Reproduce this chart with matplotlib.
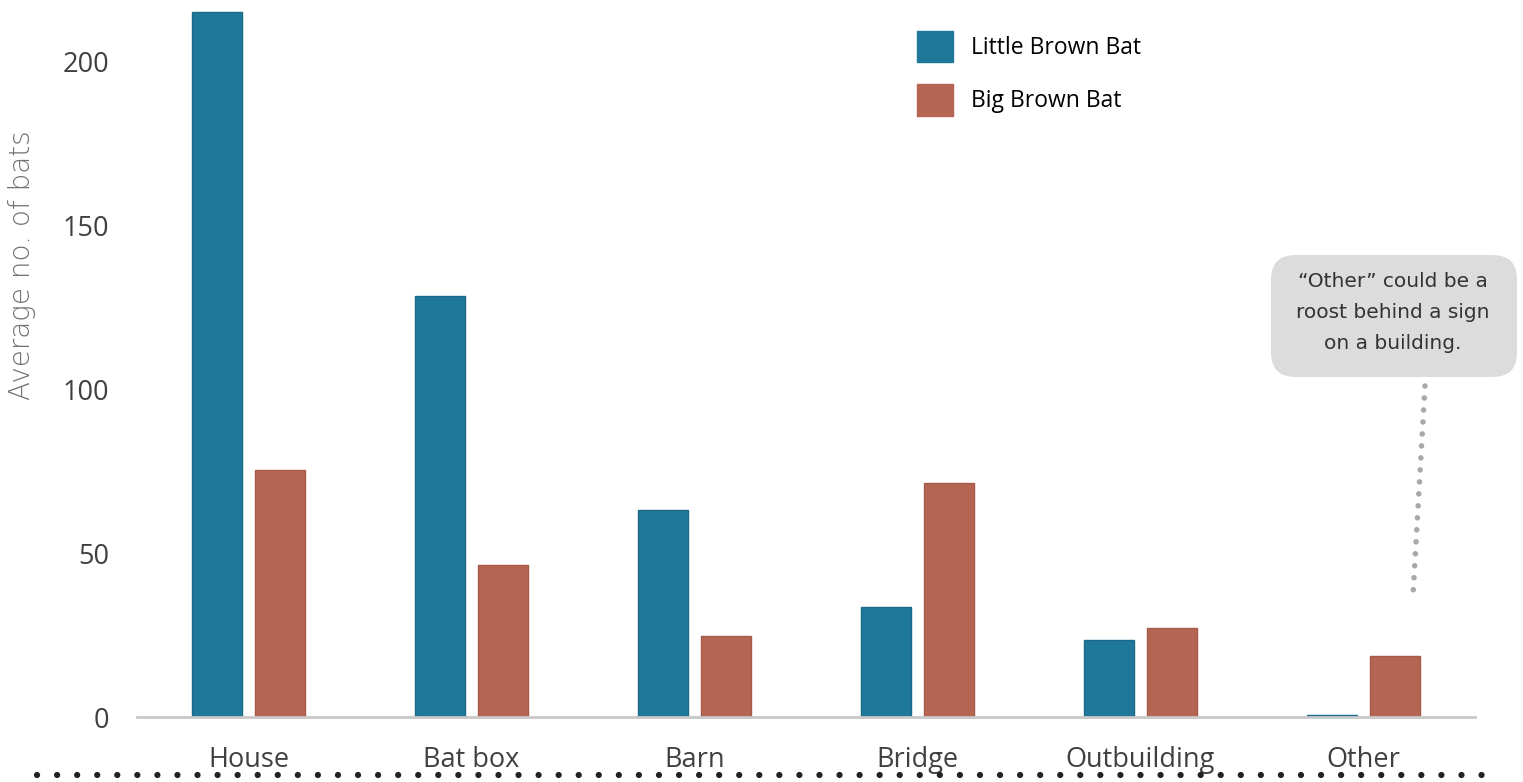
import matplotlib
matplotlib.use("Agg")
import matplotlib.pyplot as plt
import numpy as np
from matplotlib.patches import FancyBboxPatch
from matplotlib.lines import Line2D

categories = ["House", "Bat box", "Barn", "Bridge", "Outbuilding", "Other"]
little_brown = [215.3, 128.4, 63.3, 33.6, 23.5, 0.6]
big_brown = [75.5, 46.5, 24.8, 71.3, 27.2, 18.7]
series_names = ["Little Brown Bat", "Big Brown Bat"]
yticks = [0, 50, 100, 150, 200]

LBB_COLOR = "#1f789a"
BBB_COLOR = "#b56552"

W, H = 1523, 782
fig = plt.figure(figsize=(W / 100, H / 100), dpi=100)
ax = fig.add_axes([137 / W, 1 - 717 / H, (1475 - 137) / W, 717 / H])

x = np.arange(len(categories))
w = 0.224
off = 0.141
ax.bar(x - off, little_brown, w, color=LBB_COLOR, edgecolor="#1a6a88", linewidth=1.0)
ax.bar(x + off, big_brown, w, color=BBB_COLOR, edgecolor="#a65b4a", linewidth=1.0)

ax.set_xlim(-0.5, 5.5)
ax.set_ylim(0, 218.9)
ax.set_xticks(x)
ax.set_xticklabels(categories, fontsize=19.5, color="#404040", family="Open Sans")
ax.set_yticks(yticks)
ax.set_yticklabels([str(t) for t in yticks], fontsize=19.5, color="#404040", family="Open Sans")
ax.tick_params(axis="both", length=0)
ax.tick_params(axis="x", pad=21)
ax.tick_params(axis="y", pad=20)
for s in ["top", "right", "left"]:
    ax.spines[s].set_visible(False)
ax.spines["bottom"].set_color("#c8c8c8")
ax.spines["bottom"].set_linewidth(2)

# y-axis title
fig.text(22 / W, 1 - 265 / H, "Average no. of bats", rotation=90,
         ha="center", va="center", fontsize=20, color="#707070", family="DejaVu Sans",
         fontweight="light")

# legend
handles = [plt.Rectangle((0, 0), 1, 1, color=LBB_COLOR),
           plt.Rectangle((0, 0), 1, 1, color=BBB_COLOR)]
fig.legend(handles, series_names, loc="upper left",
           bbox_to_anchor=(896 / W, 1 - 10 / H), frameon=False,
           prop={"family": "Open Sans", "size": 16.5}, handlelength=1.57,
           handleheight=1.75, handletextpad=0.8, labelspacing=0.95)

# callout box
box = FancyBboxPatch((1271 / W, 1 - 377 / H), (1517 - 1271) / W, (377 - 255) / H,
                     boxstyle="round,pad=0,rounding_size=0.016",
                     transform=fig.transFigure, facecolor="#dcdcdc", edgecolor="none",
                     mutation_aspect=W / H)
fig.patches.append(box)
fig.text(1393 / W, 1 - 313 / H,
         "\u201cOther\u201d could be a\nroost behind a sign\non a building.",
         ha="center", va="center", fontsize=14.5, color="#333333",
         family="DejaVu Sans", linespacing=1.8)
fig.lines.append(Line2D([1425 / W, 1413 / W], [1 - 386 / H, 1 - 595 / H],
                        transform=fig.transFigure, color="#a8a8a8", linewidth=4,
                        linestyle=(0, (0.01, 2.15)), dash_capstyle="round"))

# bottom dotted rule
fig.lines.append(Line2D([37 / W, 1500 / W], [1 - 775 / H, 1 - 775 / H],
                        transform=fig.transFigure, color="#222222", linewidth=4.5,
                        linestyle=(0, (0.01, 3.2)), dash_capstyle="round"))

fig.savefig("out.png", dpi=100)
